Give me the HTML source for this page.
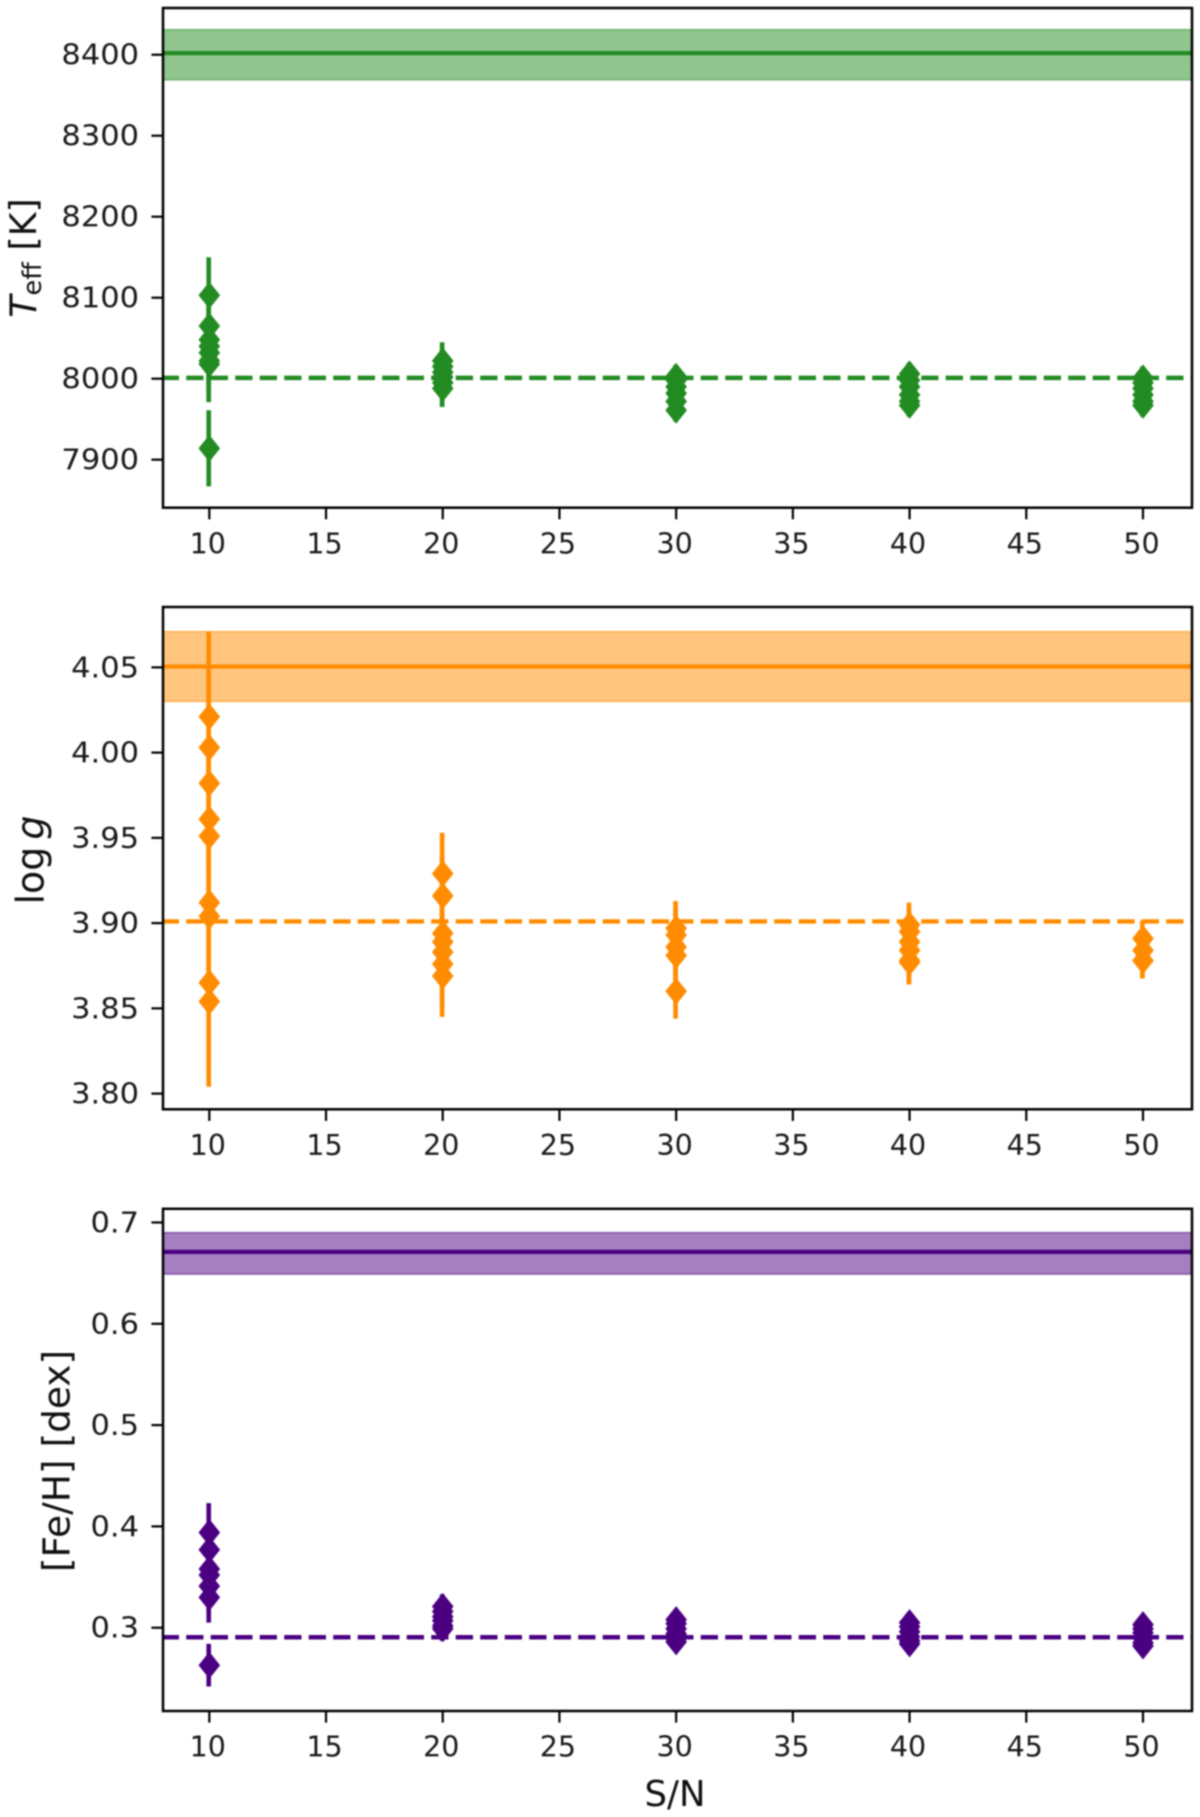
<!DOCTYPE html>
<html lang="en">
<head>
<meta charset="utf-8">
<title>Stellar parameters versus S/N</title>
<style>
  html, body { margin: 0; padding: 0; background: #fff; }
  svg { display: block; filter: blur(0.75px); font-family: "DejaVu Sans", "Liberation Sans", sans-serif; }
  .axis-title { font-size: 37px; fill: #111; }
  .tick-label { font-size: 28.5px; fill: #1a1a1a; }
</style>
</head>
<body>
<svg id="chart" xmlns="http://www.w3.org/2000/svg" width="1200" height="1817" viewBox="0 0 1200 1817">
  <rect x="0" y="0" width="1200" height="1817" fill="#ffffff"></rect>
  <g id="panel-teff"></g>
  <g id="panel-logg"></g>
  <g id="panel-feh"></g>
  <text class="axis-title" transform="translate(36,258) rotate(-90)" text-anchor="middle" style="font-size:36.5px"><tspan font-style="italic">T</tspan><tspan font-size="25.5" dy="5">eff</tspan><tspan dy="-5"> [K]</tspan></text>
  <text class="axis-title" transform="translate(43.5,860) rotate(-90)" text-anchor="middle" style="font-size:38px">log<tspan dx="7" font-style="italic">g</tspan></text>
  <text class="axis-title" transform="translate(69.5,1461) rotate(-90)" text-anchor="middle" style="font-size:37.5px">[Fe/H] [dex]</text>
  <text class="axis-title" x="675" y="1806" text-anchor="middle" style="font-size:35.5px">S/N</text>
</svg>
<script>
// ---- shared data ----
const snLevels = [10, 20, 30, 40, 50];
const xTickValues = [10, 15, 20, 25, 30, 35, 40, 45, 50];

// ---- effective temperature ----
const teffAtSn10 = [8103, 8065, 8048, 8040, 8032, 8022, 8018, 7914];
const teffAtSn20 = [8022, 8015, 8008, 8002, 7995, 7988];
const teffAtSn30 = [8003, 7998, 7990, 7982, 7972, 7961];
const teffAtSn40 = [8006, 7998, 7990, 7980, 7972, 7967];
const teffAtSn50 = [8001, 7995, 7988, 7980, 7972, 7967];
const teffErrors = [47, 23, 14, 14, 14];
const teffTicks = [7900, 8000, 8100, 8200, 8300, 8400];
const teffTickLabels = ['7900', '8000', '8100', '8200', '8300', '8400'];
const teffReference = 8402;
const teffBand = [8369, 8431];
const teffDashed = 8001;

// ---- surface gravity ----
const loggAtSn10 = [4.021, 4.003, 3.982, 3.961, 3.951, 3.912, 3.904, 3.865, 3.854];
const loggAtSn20 = [3.929, 3.916, 3.894, 3.889, 3.883, 3.876, 3.869];
const loggAtSn30 = [3.897, 3.893, 3.886, 3.881, 3.86];
const loggAtSn40 = [3.899, 3.895, 3.889, 3.884, 3.878, 3.877];
const loggAtSn50 = [3.891, 3.884, 3.878, 3.878];
const loggErrors = [0.05, 0.024, 0.016, 0.013, 0.0105];
const loggTicks = [3.80, 3.85, 3.90, 3.95, 4.00, 4.05];
const loggTickLabels = ['3.80', '3.85', '3.90', '3.95', '4.00', '4.05'];
const loggReference = 4.0505;
const loggBand = [4.03, 4.071];
const loggDashed = 3.901;

// ---- metallicity ----
const fehAtSn10 = [0.394, 0.377, 0.358, 0.352, 0.341, 0.33, 0.263];
const fehAtSn20 = [0.321, 0.316, 0.311, 0.307, 0.302, 0.299];
const fehAtSn30 = [0.308, 0.304, 0.299, 0.294, 0.289, 0.286];
const fehAtSn40 = [0.305, 0.301, 0.296, 0.291, 0.287, 0.284];
const fehAtSn50 = [0.303, 0.299, 0.295, 0.29, 0.285, 0.282];
const fehErrorsSn10 = [0.029, 0.026, 0.026, 0.026, 0.026, 0.025, 0.021];
const fehErrors = [fehErrorsSn10, 0.012, 0.01, 0.01, 0.01];
const fehTicks = [0.3, 0.4, 0.5, 0.6, 0.7];
const fehTickLabels = ['0.3', '0.4', '0.5', '0.6', '0.7'];
const fehReference = 0.671;
const fehBand = [0.649, 0.69];
const fehDashed = 0.2906;

// ---- axis limits ----
const xLimits = [8.016, 52.1];
const teffLimits = [7840.7, 8457.7];
const loggLimits = [3.7908, 4.0854];
const fehLimits = [0.2178, 0.7135];

const SVG_NS = 'http://www.w3.org/2000/svg';
const PLOT_LEFT = 163;
const PLOT_RIGHT = 1192;

function make(tag, attrs, parent) {
  const node = document.createElementNS(SVG_NS, tag);
  for (const key in attrs) node.setAttribute(key, attrs[key]);
  parent.appendChild(node);
  return node;
}

function xScale(value) {
  return PLOT_LEFT + (value - xLimits[0]) / (xLimits[1] - xLimits[0]) * (PLOT_RIGHT - PLOT_LEFT);
}

function makeYScale(limits, top, bottom) {
  return function (value) {
    return bottom - (value - limits[0]) / (limits[1] - limits[0]) * (bottom - top);
  };
}

function drawPanel(options) {
  const root = document.getElementById(options.id);
  const yScale = makeYScale(options.limits, options.top, options.bottom);
  const color = options.color;

  const clip = make('clipPath', { id: options.id + '-clip' }, root);
  make('rect', { x: PLOT_LEFT, y: options.top, width: PLOT_RIGHT - PLOT_LEFT, height: options.bottom - options.top }, clip);
  const plotArea = make('g', { 'clip-path': 'url(#' + options.id + '-clip)' }, root);
  
  

  const band = make('rect', {
    x: PLOT_LEFT,
    y: yScale(options.band[1]),
    width: PLOT_RIGHT - PLOT_LEFT,
    height: yScale(options.band[0]) - yScale(options.band[1]),
    fill: color,
    'fill-opacity': 0.5,
    stroke: color,
    'stroke-opacity': 0.5,
    'stroke-width': 1.5
  }, plotArea);
  
  

  const referenceLine = make('line', {
    x1: PLOT_LEFT, x2: PLOT_RIGHT,
    y1: yScale(options.reference), y2: yScale(options.reference),
    stroke: color, 'stroke-width': 4.2
  }, plotArea);
  
  

  const dashedLine = make('line', {
    x1: PLOT_LEFT, x2: PLOT_RIGHT,
    y1: yScale(options.dashed), y2: yScale(options.dashed),
    stroke: color, 'stroke-width': 4.4,
    'stroke-dasharray': '17.3 7.2', 'stroke-dashoffset': 1.3
  }, plotArea);
  
  

  snLevels.forEach(function (sn, groupIndex) {
    const errorEntry = options.errors[groupIndex];
    const px = xScale(sn);
    options.groups[groupIndex].forEach(function (value, pointIndex) {
      const error = Array.isArray(errorEntry) ? errorEntry[pointIndex] : errorEntry;
      const bar = make('line', {
        x1: px - 0.6, x2: px - 0.6,
        y1: yScale(value + error), y2: yScale(value - error),
        stroke: color, 'stroke-width': 4.6
      }, plotArea);
      
      

      const py = yScale(value);
      const halfW = 10.8;
      const halfH = 13.5;
      const marker = make('polygon', {
        points: [px, py - halfH, px + halfW, py, px, py + halfH, px - halfW, py].join(' '),
        fill: color
      }, plotArea);
      
      
    });
  });

  const frame = make('rect', {
    x: PLOT_LEFT, y: options.top,
    width: PLOT_RIGHT - PLOT_LEFT, height: options.bottom - options.top,
    fill: 'none', stroke: '#000', 'stroke-width': 2.5
  }, root);
  
  

  xTickValues.forEach(function (value) {
    const px = xScale(value);
    const tick = make('line', {
      x1: px, x2: px, y1: options.bottom, y2: options.bottom + 11.6,
      stroke: '#000', 'stroke-width': 2.2
    }, root);
    
    

    const label = make('text', {
      x: px - 1.5, y: options.bottom + 45.6,
      'text-anchor': 'middle', class: 'tick-label'
    }, root);
    
    
    label.textContent = String(value);
  });

  options.ticks.forEach(function (value, index) {
    const py = yScale(value);
    const tick = make('line', {
      x1: PLOT_LEFT - 11.6, x2: PLOT_LEFT, y1: py, y2: py,
      stroke: '#000', 'stroke-width': 2.2
    }, root);
    
    

    const label = make('text', {
      transform: 'translate(139,' + (py + 10) + ') scale(1.07,1)',
      'text-anchor': 'end', class: 'tick-label'
    }, root);
    
    
    label.textContent = options.tickLabels[index];
  });
}

drawPanel({
  id: 'panel-teff', top: 8, bottom: 507.7, limits: teffLimits, color: '#228B22',
  groups: [teffAtSn10, teffAtSn20, teffAtSn30, teffAtSn40, teffAtSn50],
  errors: teffErrors, ticks: teffTicks, tickLabels: teffTickLabels,
  reference: teffReference, band: teffBand, dashed: teffDashed
});
drawPanel({
  id: 'panel-logg', top: 607, bottom: 1109.3, limits: loggLimits, color: '#FF8C00',
  groups: [loggAtSn10, loggAtSn20, loggAtSn30, loggAtSn40, loggAtSn50],
  errors: loggErrors, ticks: loggTicks, tickLabels: loggTickLabels,
  reference: loggReference, band: loggBand, dashed: loggDashed
});
drawPanel({
  id: 'panel-feh', top: 1208.8, bottom: 1711, limits: fehLimits, color: '#4B0082',
  groups: [fehAtSn10, fehAtSn20, fehAtSn30, fehAtSn40, fehAtSn50],
  errors: fehErrors, ticks: fehTicks, tickLabels: fehTickLabels,
  reference: fehReference, band: fehBand, dashed: fehDashed
});
</script>
</body>
</html>
